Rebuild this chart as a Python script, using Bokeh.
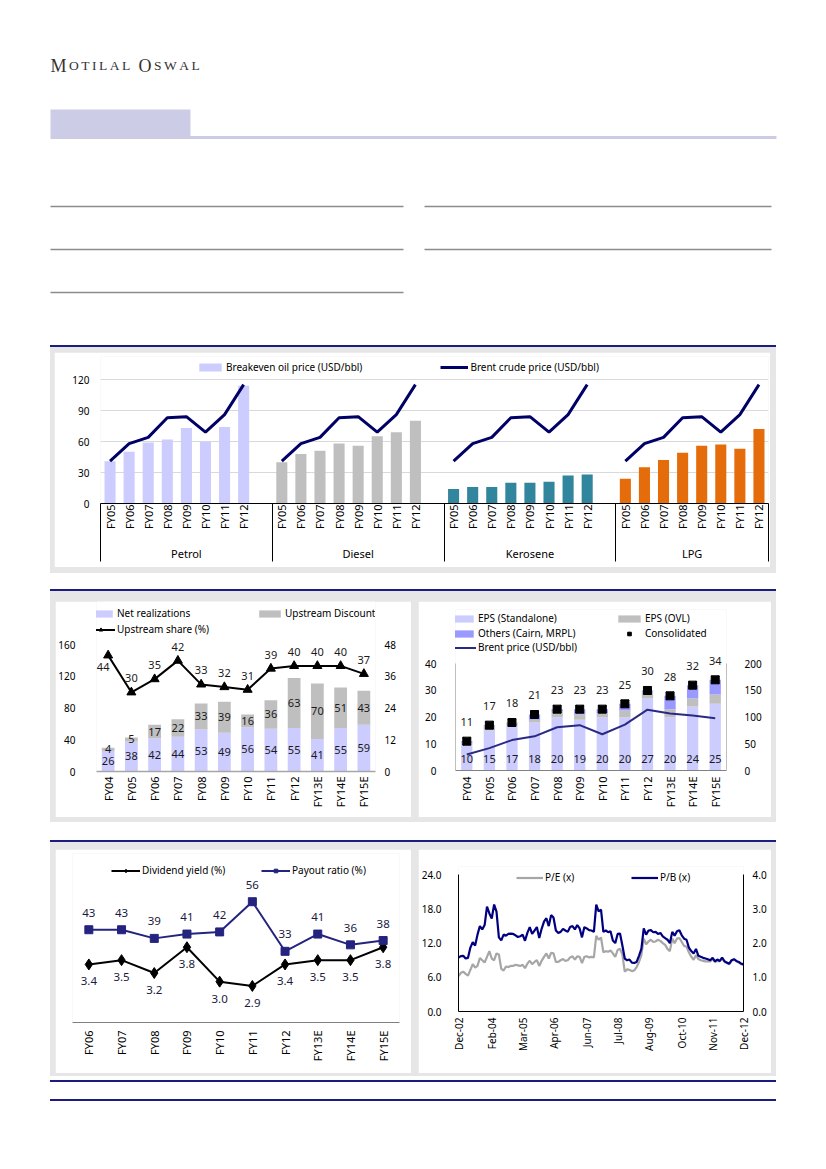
import math
from bokeh.plotting import figure
from bokeh.models import (Range1d, FactorRange, LinearAxis, FixedTicker, Legend, LegendItem,
                          ColumnDataSource, Spacer, NumeralTickFormatter)
from bokeh.layouts import column, row
from bokeh.embed import file_html
from bokeh.resources import INLINE
from bokeh.core.properties import value

FONT = "Noto Sans"
SERIF = "Liberation Serif"
GRAYBG = "#e6e6e6"
RULE = "#1c1c80"

# ---------------- data ----------------
# Chart 1: breakeven oil price by product vs Brent
products = ["Petrol", "Diesel", "Kerosene", "LPG"]
years_a = ["FY05", "FY06", "FY07", "FY08", "FY09", "FY10", "FY11", "FY12"]
breakeven_petrol = [41, 50, 59, 62, 73, 60, 74, 114]
breakeven_diesel = [40, 48, 51, 58, 56, 65, 69, 80]
breakeven_kerosene = [14, 16, 16, 20, 20, 21, 27, 28]
breakeven_lpg = [24, 35, 42, 49, 56, 57, 53, 72]
brent_crude = [41, 58, 64, 83, 84, 69, 86, 115]
ticks_a = [0, 30, 60, 90, 120]

# Chart 2: net realizations / upstream discount / upstream share
years_b = ["FY04", "FY05", "FY06", "FY07", "FY08", "FY09", "FY10", "FY11", "FY12",
           "FY13E", "FY14E", "FY15E"]
net_realizations = [26, 38, 42, 44, 53, 49, 56, 54, 55, 41, 55, 59]
upstream_discount = [4, 5, 17, 22, 33, 39, 16, 36, 63, 70, 51, 43]
upstream_share = [44, 30, 35, 42, 33, 32, 31, 39, 40, 40, 40, 37]
ticks_b_left = [0, 40, 80, 120, 160]
ticks_b_right = [0, 12, 24, 36, 48]

# Chart 3: EPS build-up
eps_standalone = [10, 15, 17, 18, 20, 19, 20, 20, 27, 20, 24, 25]
eps_ovl = [0.5, 1.5, 1, 1, 2, 2, 1.5, 2.5, 2.5, 3, 3, 3.5]
eps_others = [0.5, 0.5, 0, 2, 1, 2, 1.5, 2.5, 0.5, 5, 5, 5.5]
eps_consolidated = [11, 17, 18, 21, 23, 23, 23, 25, 30, 28, 32, 34]
brent_price = [30, 42, 57, 64, 81, 85, 68, 86, 114, 107, 103, 98]
ticks_c_left = [0, 10, 20, 30, 40]
ticks_c_right = [0, 50, 100, 150, 200]

# Chart 4: dividend yield / payout
years_d = ["FY06", "FY07", "FY08", "FY09", "FY10", "FY11", "FY12", "FY13E", "FY14E", "FY15E"]
dividend_yield = [3.4, 3.5, 3.2, 3.8, 3.0, 2.9, 3.4, 3.5, 3.5, 3.8]
payout_ratio = [43, 43, 39, 41, 42, 56, 33, 41, 36, 38]

# Chart 5: P/E and P/B (monthly, Dec-02 .. Dec-12)
pe_ratio = [6.2, 6.8, 7.0, 6.6, 6.3, 7.3, 8.3, 7.7, 8.0, 9.4,
            9.0, 8.6, 9.6, 10.6, 9.3, 9.0, 10.2, 10.0, 7.5, 7.2,
            7.9, 7.8, 8.0, 8.0, 8.2, 8.1, 8.0, 8.2, 7.6, 8.4,
            8.9, 8.3, 8.7, 9.0, 8.0, 8.9, 9.6, 10.2, 9.3, 10.3,
            10.2, 8.7, 8.7, 9.0, 9.2, 8.9, 9.0, 9.5, 9.7, 9.1,
            9.7, 9.6, 8.5, 9.6, 9.7, 9.5, 9.6, 9.5, 13.3, 12.6,
            13.0, 10.4, 10.6, 10.5, 10.7, 10.2, 9.6, 10.8, 11.0, 10.0,
            7.0, 7.4, 7.3, 7.1, 7.2, 7.8, 8.7, 9.9, 12.8, 11.8,
            12.3, 12.6, 12.2, 12.3, 12.6, 12.4, 12.0, 11.7, 11.0, 10.6,
            12.8, 12.0, 12.8, 12.9, 12.2, 11.5, 11.4, 10.4, 9.6, 9.1,
            9.9, 9.2, 9.0, 8.9, 8.8, 8.8, 8.8, 9.2, 8.7, 8.9,
            8.8, 9.3, 8.7, 8.5, 8.3, 8.9, 9.1, 8.8, 8.6, 8.3,
            8.2]
pb_ratio = [1.58, 1.62, 1.63, 1.55, 1.57, 1.87, 2.03, 1.93, 2.25, 2.50,
            2.40, 2.53, 3.07, 2.87, 2.72, 3.13, 2.92, 2.17, 2.08, 2.25,
            2.22, 2.27, 2.28, 2.27, 2.23, 2.18, 2.20, 2.25, 2.07, 2.30,
            2.47, 2.27, 2.37, 2.47, 2.15, 2.42, 2.63, 2.73, 2.50, 2.82,
            2.75, 2.37, 2.30, 2.33, 2.42, 2.37, 2.33, 2.47, 2.50, 2.40,
            2.53, 2.43, 2.17, 2.47, 2.43, 2.38, 2.37, 2.33, 3.13, 2.93,
            2.98, 2.33, 2.37, 2.32, 2.35, 2.08, 2.00, 2.27, 2.28, 1.93,
            1.55, 1.50, 1.52, 1.43, 1.42, 1.45, 1.63, 1.83, 2.43, 2.25,
            2.37, 2.38, 2.32, 2.33, 2.27, 2.30, 2.20, 2.15, 2.10, 2.00,
            2.33, 2.22, 2.35, 2.38, 2.23, 2.13, 2.10, 1.87, 1.77, 1.70,
            1.83, 1.63, 1.60, 1.57, 1.55, 1.53, 1.50, 1.57, 1.47, 1.52,
            1.48, 1.58, 1.47, 1.43, 1.40, 1.50, 1.53, 1.48, 1.45, 1.40,
            1.38]
month_ticks = [0, 14, 27, 40, 54, 67, 80, 94, 107, 120]
month_labels = ["Dec-02", "Feb-04", "Mar-05", "Apr-06", "Jun-07", "Jul-08",
                "Aug-09", "Oct-10", "Nov-11", "Dec-12"]
ticks_e_left = [0, 6, 12, 18, 24]
ticks_e_right = [0, 1, 2, 3, 4]


# ---------------- helpers ----------------
def base_fig(w, h, bl, br, bt, bb, **kw):
    p = figure(width=w, height=h, output_backend="svg", toolbar_location=None, title=None,
               min_border_left=bl, min_border_right=br, min_border_top=bt,
               min_border_bottom=bb, **kw)
    p.frame_align = False
    p.outline_line_color = None
    p.background_fill_color = "white"
    p.border_fill_color = "white"
    p.xgrid.visible = False
    p.ygrid.visible = False
    return p


def style_axis(ax, size="10px", standoff=4, line_color=None, line_width=1):
    ax.axis_line_color = line_color
    ax.axis_line_width = line_width
    ax.major_tick_line_color = None
    ax.minor_tick_line_color = None
    ax.major_label_text_font = FONT
    ax.major_label_text_font_size = size
    ax.major_label_text_color = "#000000"
    ax.major_label_standoff = standoff


def add_legend(p, items, vx, vy, spacing=10, label_width=20, gw=27, gh=9):
    lg = Legend(items=items, location=(vx, vy), orientation="horizontal",
                spacing=spacing, label_width=label_width, label_height=10,
                glyph_width=gw, glyph_height=gh, label_standoff=2,
                padding=0, margin=0, border_line_color=None,
                background_fill_alpha=0, label_text_font=FONT,
                label_text_font_size="10px", label_text_color="#000000")
    p.add_layout(lg)
    return lg


def labels(p, x, y, txt, size="11px", color="#1a1a1a", xo=0, yo=0, align="center", **kw):
    p.text(x=x, y=y, text=txt, text_font=value(FONT), text_font_size=value(size),
           text_color=color, text_align=align, text_baseline="middle",
           x_offset=xo, y_offset=yo, **kw)


# ---------------- header ----------------
hdr = figure(width=810, height=337, output_backend="svg", toolbar_location=None, title=None,
             x_range=Range1d(0, 810), y_range=Range1d(337, 0),
             min_border=0, min_border_left=0, min_border_right=0,
             min_border_top=0, min_border_bottom=0)
hdr.axis.visible = False
hdr.grid.visible = False
hdr.outline_line_color = None
brand = "MOTILAL OSWAL"
advance = {"M": .889, "O": .722, "T": .611, "I": .333, "L": .611, "A": .722,
           "S": .556, "W": .944, " ": .25}
bx, bxs, bch, bsz = 42.0, [], [], []
for i, ch in enumerate(brand):
    sz = 18 if i in (0, 8) else 13.5
    if ch != " ":
        bxs.append(bx)
        bch.append(ch)
        bsz.append(f"{sz}px")
    bx += advance[ch] * sz + 2.5
hdr.text(x=bxs, y=[57] * len(bxs), text=bch, text_font=value(SERIF),
         text_font_size=bsz, text_color="#333333", text_baseline="alphabetic")
hdr.quad(left=[42], right=[182], top=[101], bottom=[128], fill_color="#cdcce6", line_color=None)
hdr.quad(left=[42], right=[768], top=[127.5], bottom=[130.5], fill_color="#cdcce6", line_color=None)
hdr.segment(x0=[42, 416, 42, 416, 42], y0=[198, 198, 241, 241, 284],
            x1=[395, 763, 395, 763, 395], y1=[198, 198, 241, 241, 284],
            line_color="#8c8c8c", line_width=1.5)

# ---------------- chart 1 ----------------
SLOTS = len(years_a) + 1
p1 = base_fig(716, 215, 46, 2, 4, 64, x_range=Range1d(-0.5, len(products) * SLOTS - 1.5),
              y_range=Range1d(0, 142.26))
series_a = [breakeven_petrol, breakeven_diesel, breakeven_kerosene, breakeven_lpg]
colors_a = ["#ccccff", "#bfbfbf", "#31859c", "#e46c0a"]
bar_rs, line_rs, year_overrides, bar_x = [], [], {}, []
for g, (vals, col) in enumerate(zip(series_a, colors_a)):
    xs = [g * SLOTS + k for k in range(len(years_a))]
    bar_rs.append(p1.vbar(x=xs, top=vals, width=0.58, fill_color=col, line_color=None))
    line_rs.append(p1.line(x=xs, y=brent_crude, line_color="#000066", line_width=3))
    for x, yr in zip(xs, years_a):
        year_overrides[x] = yr
        bar_x.append(x)
ya = p1.yaxis[0]
ya.ticker = FixedTicker(ticks=ticks_a)
style_axis(ya, standoff=5)
p1.ygrid.visible = True
p1.ygrid.ticker = FixedTicker(ticks=ticks_a)
p1.ygrid.grid_line_color = "#d9d9d9"
seps = [g * SLOTS - 0.5 for g in range(len(products))] + [len(products) * SLOTS - 1.5]
group_centers = [(seps[i] + seps[i + 1]) / 2 for i in range(len(products))]
# first below axis: zero line + group separators (no labels)
xc = p1.xaxis[0]
xc.ticker = FixedTicker(ticks=seps)
style_axis(xc, size="1px", standoff=0, line_color="#000000")
xc.major_label_text_color = None
xc.major_tick_line_color = "#000000"
xc.major_tick_in = -58
xc.major_tick_out = 0
# year labels
xa = LinearAxis(ticker=FixedTicker(ticks=bar_x), major_label_overrides=year_overrides)
style_axis(xa, size="11px", standoff=-5)
xa.major_label_orientation = math.pi / 2
p1.add_layout(xa, "below")
# product labels
xb = LinearAxis(ticker=FixedTicker(ticks=group_centers),
                major_label_overrides={c: n for c, n in zip(group_centers, products)})
style_axis(xb, size="11px", standoff=7)
p1.add_layout(xb, "below")
add_legend(p1, [LegendItem(label="Breakeven oil price (USD/bbl)", renderers=[bar_rs[0]]),
                LegendItem(label="Brent crude price (USD/bbl)", renderers=[line_rs[0]])],
           vx=96, vy=129, spacing=78, label_width=20, gw=28, gh=10)

# ---------------- chart 2 ----------------
p2 = base_fig(356, 216, 40, 36, 0, 46, x_range=FactorRange(factors=years_b),
              y_range=Range1d(0, 214.7))
p2.extra_y_ranges = {"share": Range1d(0, 64.4)}
src2 = ColumnDataSource(dict(x=years_b, net=net_realizations, disc=upstream_discount))
st2 = p2.vbar_stack(["net", "disc"], x="x", width=0.55, fill_color=["#ccccff", "#bfbfbf"],
                    line_color=None, source=src2)
labels(p2, years_b, [n / 2 for n in net_realizations], [str(v) for v in net_realizations])
labels(p2, years_b, [n + d / 2 for n, d in zip(net_realizations, upstream_discount)],
       [str(v) for v in upstream_discount])
ln2 = p2.line(x=years_b, y=upstream_share, y_range_name="share", line_color="#000000", line_width=2)
mk2 = p2.scatter(x=years_b, y=upstream_share, y_range_name="share", marker="triangle", size=9,
                 fill_color="#000000", line_color="#000000")
labels(p2, years_b, upstream_share, [str(v) for v in upstream_share], y_range_name="share",
       xo=[-5] + [0] * (len(years_b) - 1), yo=[12] + [-14] * (len(years_b) - 1))
y2 = p2.yaxis[0]
y2.ticker = FixedTicker(ticks=ticks_b_left)
style_axis(y2, standoff=15)
y2r = LinearAxis(y_range_name="share", ticker=FixedTicker(ticks=ticks_b_right))
style_axis(y2r, standoff=3)
p2.add_layout(y2r, "right")
x2 = p2.xaxis[0]
style_axis(x2, size="11px", standoff=-1, line_color="#a6a6a6", line_width=1.5)
x2.major_label_orientation = math.pi / 2
add_legend(p2, [LegendItem(label="Net realizations", renderers=[st2[0]]),
                LegendItem(label="Upstream Discount", renderers=[st2[1]])],
           vx=-8, vy=151, spacing=9, label_width=130)
add_legend(p2, [LegendItem(label="Upstream share (%)", renderers=[ln2, mk2])],
           vx=-10, vy=135, spacing=9, label_width=130, gw=29)

# ---------------- chart 3 ----------------
p3 = base_fig(353, 216, 37, 45, 8, 47, x_range=FactorRange(factors=years_b),
              y_range=Range1d(0, 60.36))
p3.extra_y_ranges = {"brent": Range1d(0, 301.8)}
src3 = ColumnDataSource(dict(x=years_b, sa=eps_standalone, ovl=eps_ovl, oth=eps_others))
st3 = p3.vbar_stack(["sa", "ovl", "oth"], x="x", width=0.5,
                    fill_color=["#ccccff", "#bfbfbf", "#9999ff"], line_color=None, source=src3)
ln3 = p3.line(x=years_b, y=brent_price, y_range_name="brent", line_color="#2a2a86", line_width=2)
sq3 = p3.scatter(x=years_b, y=eps_consolidated, marker="square", size=8,
                 fill_color="#000000", line_color="#000000")
xx3 = p3.scatter(x=years_b, y=eps_consolidated, marker="x", size=11,
                 line_color="#000000", line_width=1.5)
labels(p3, years_b, [0] * len(years_b), [str(v) for v in eps_standalone], yo=-12)
labels(p3, years_b, eps_consolidated, [str(v) for v in eps_consolidated], yo=-19)
y3 = p3.yaxis[0]
y3.ticker = FixedTicker(ticks=ticks_c_left)
style_axis(y3, standoff=13, line_color="#bfbfbf")
y3.bounds = (0, 40)
y3r = LinearAxis(y_range_name="brent", ticker=FixedTicker(ticks=ticks_c_right))
style_axis(y3r, standoff=12, line_color="#bfbfbf")
y3r.bounds = (0, 200)
p3.add_layout(y3r, "right")
x3 = p3.xaxis[0]
style_axis(x3, size="11px", standoff=0, line_color="#808080")
x3.major_label_orientation = math.pi / 2
add_legend(p3, [LegendItem(label="EPS (Standalone)", renderers=[st3[0]]),
                LegendItem(label="EPS (OVL)", renderers=[st3[1]])],
           vx=-7, vy=145, spacing=7, label_width=130, gw=28)
add_legend(p3, [LegendItem(label="Others (Cairn, MRPL)", renderers=[st3[2]]),
                LegendItem(label="Consolidated", renderers=[sq3, xx3])],
           vx=-7, vy=130, spacing=7, label_width=130, gw=28)
add_legend(p3, [LegendItem(label="Brent price (USD/bbl)", renderers=[ln3])],
           vx=-7, vy=116, spacing=7, label_width=130, gw=28)

# ---------------- chart 4 ----------------
p4 = base_fig(356, 224, 17, 12, 4, 51, x_range=FactorRange(factors=years_d),
              y_range=Range1d(0, 78.35))
p4.extra_y_ranges = {"yield": Range1d(2.05, 5.98)}
p4.yaxis.visible = False
ln4a = p4.line(x=years_d, y=dividend_yield, y_range_name="yield", line_color="#000000", line_width=2)
mk4a = p4.scatter(x=years_d, y=dividend_yield, y_range_name="yield", marker="diamond", size=11,
                  fill_color="#000000", line_color="#000000")
ln4b = p4.line(x=years_d, y=payout_ratio, line_color="#24247f", line_width=2)
mk4b = p4.scatter(x=years_d, y=payout_ratio, marker="square", size=8,
                  fill_color="#24247f", line_color="#24247f")
labels(p4, years_d, payout_ratio, [str(v) for v in payout_ratio], size="11.5px",
       color="#1a1a40", yo=-17)
labels(p4, years_d, dividend_yield, [f"{v:.1f}" for v in dividend_yield], size="11.5px",
       color="#1a1a40", yo=17, y_range_name="yield")
x4 = p4.xaxis[0]
style_axis(x4, size="11px", standoff=2, line_color="#808080")
x4.major_label_orientation = math.pi / 2
add_legend(p4, [LegendItem(label="Dividend yield (%)", renderers=[ln4a, mk4a]),
                LegendItem(label="Payout ratio (%)", renderers=[ln4b, mk4b])],
           vx=39, vy=145, spacing=9, label_width=110, gw=29)

# ---------------- chart 5 ----------------
months = list(range(len(pe_ratio)))
p5 = base_fig(353, 224, 40, 28, 17, 62, x_range=Range1d(0, len(pe_ratio) - 1),
              y_range=Range1d(0, 25.46))
p5.extra_y_ranges = {"pb": Range1d(0, 4.243)}
ln5a = p5.line(x=months, y=pe_ratio, line_color="#a6a6a6", line_width=2.2)
ln5b = p5.line(x=months, y=pb_ratio, y_range_name="pb", line_color="#000080", line_width=2.2)
y5 = p5.yaxis[0]
y5.ticker = FixedTicker(ticks=ticks_e_left)
y5.formatter = NumeralTickFormatter(format="0.0")
style_axis(y5, standoff=11, line_color="#000000")
y5.bounds = (0, 24)
y5r = LinearAxis(y_range_name="pb", ticker=FixedTicker(ticks=ticks_e_right),
                 formatter=NumeralTickFormatter(format="0.0"))
style_axis(y5r, standoff=3, line_color="#000000")
y5r.bounds = (0, 4)
p5.add_layout(y5r, "right")
x5 = p5.xaxis[0]
x5.ticker = FixedTicker(ticks=month_ticks)
x5.major_label_overrides = {m: s for m, s in zip(month_ticks, month_labels)}
style_axis(x5, size="10px", standoff=0, line_color="#000000")
x5.major_label_orientation = math.pi / 2
add_legend(p5, [LegendItem(label="P/E (x)", renderers=[ln5a]),
                LegendItem(label="P/B (x)", renderers=[ln5b])],
           vx=58, vy=127, spacing=16, label_width=70, gw=27)

# ---------------- page layout ----------------
BG = {"background-color": GRAYBG}


def rule():
    return row(Spacer(width=42), Spacer(width=726, height=2, styles={"background-color": RULE}))


band1 = column(Spacer(height=5), row(Spacer(width=4), p1, Spacer(width=6)), Spacer(height=6),
               styles=BG)
band2 = column(Spacer(height=10), row(Spacer(width=5), p2, Spacer(width=7), p3, Spacer(width=5)),
               Spacer(height=5), styles=BG)
band3 = column(Spacer(height=7), row(Spacer(width=5), p4, Spacer(width=7), p5, Spacer(width=5)),
               Spacer(height=3), styles=BG)

page = column(
    hdr,
    rule(),
    row(Spacer(width=42), band1),
    Spacer(height=16),
    rule(),
    row(Spacer(width=42), band2),
    Spacer(height=18),
    rule(),
    row(Spacer(width=42), band3),
    Spacer(height=4),
    rule(),
    Spacer(height=17),
    rule(),
)
root = row(Spacer(width=8), column(Spacer(height=8), page))

open("out.html", "w").write(file_html(root, INLINE))
